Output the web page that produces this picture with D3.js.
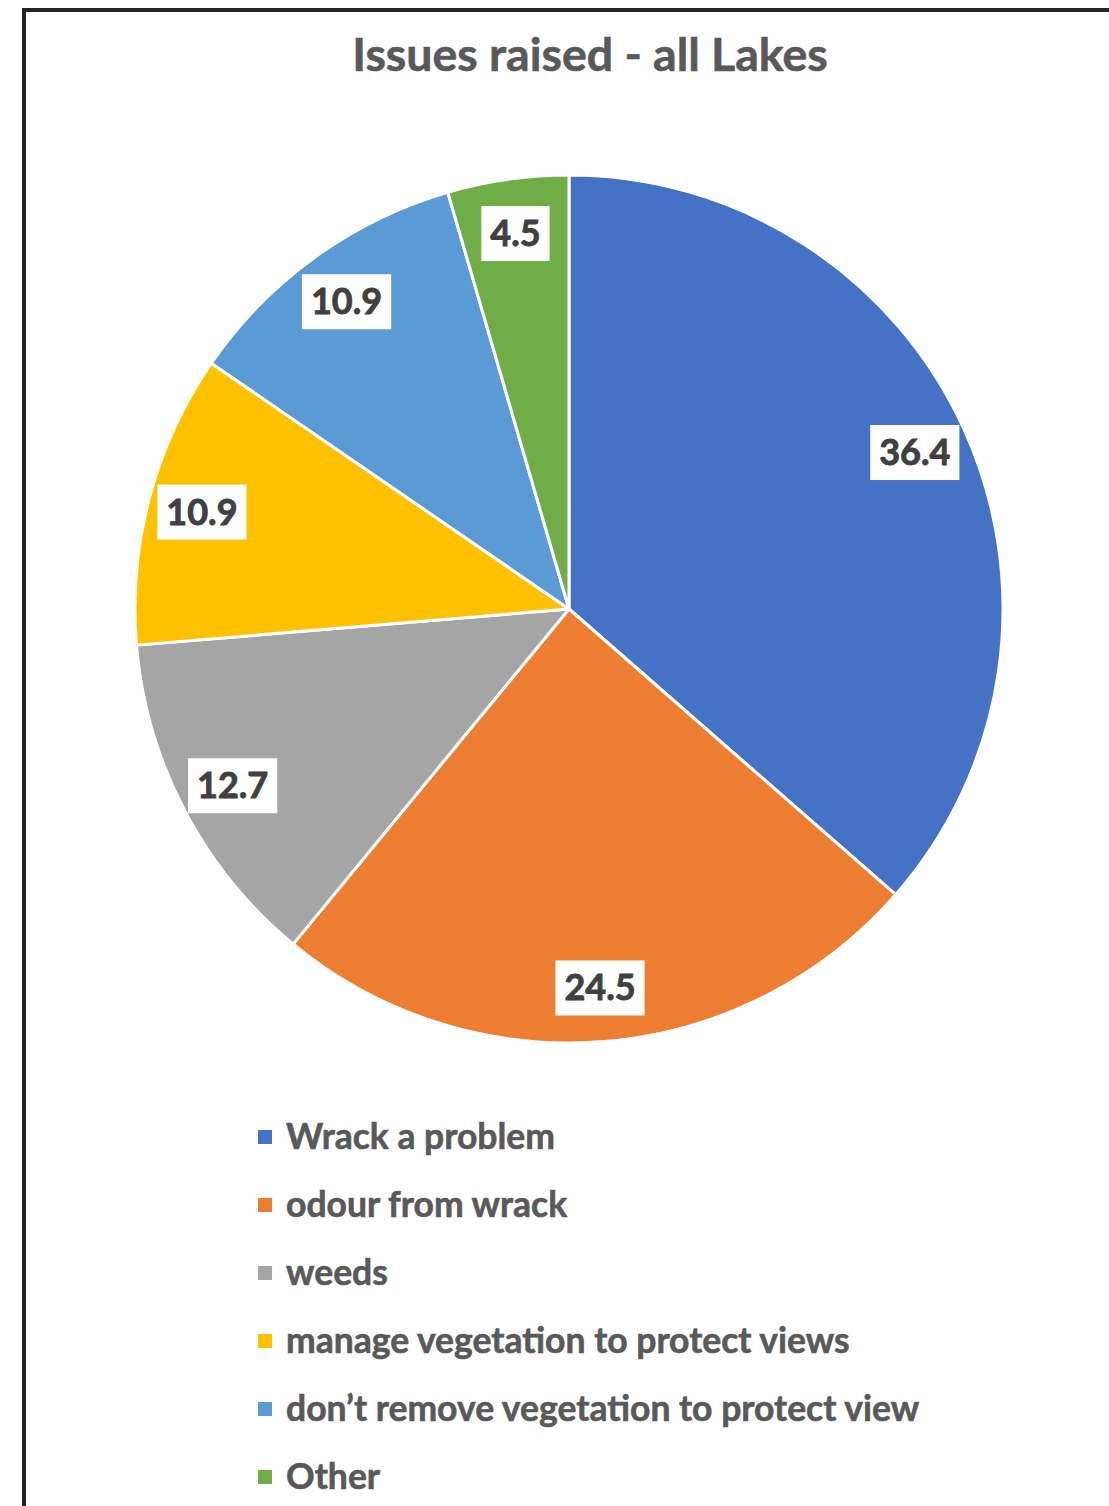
<!DOCTYPE html>
<html><head><meta charset="utf-8">
<script src="https://cdn.jsdelivr.net/npm/d3@7"></script>
<style>body{margin:0;background:#fff}svg{display:block}</style>
</head><body>
<script>
const categories = ["Wrack a problem","odour from wrack","weeds","manage vegetation to protect views","don\u2019t remove vegetation to protect view","Other"];
const values = [36.4,24.5,12.7,10.9,10.9,4.5];
const colors = ["#4472C4","#ED7D31","#A5A5A5","#FFC000","#5B9BD5","#70AD47"];
const title = "Issues raised - all Lakes";

const W=1109,H=1506;
const svg=d3.select("body").append("svg").attr("width",W).attr("height",H);
svg.append("rect").attr("x",24).attr("y",10).attr("width",W+20).attr("height",H+20)
  .attr("fill","#fff").attr("stroke","#262626").attr("stroke-width",4);
const font="Lato, 'Open Sans', sans-serif";
svg.append("text").attr("x",590).attr("y",71).attr("text-anchor","middle")
  .attr("font-family",font).attr("font-weight","bold").attr("font-size",46.5)
  .attr("fill","#595959").attr("stroke","#595959").attr("stroke-width",0.6).text(title);

const cx=569,cy=609,R=434;
const pie=d3.pie().sort(null).value(d=>d)(values);
const arc=d3.arc().innerRadius(0).outerRadius(R);
const lab=d3.arc().innerRadius(R*0.875).outerRadius(R*0.875);
const g=svg.append("g").attr("transform",`translate(${cx},${cy})`);
g.selectAll("path").data(pie).join("path").attr("d",arc)
  .attr("fill",(d,i)=>colors[i]).attr("stroke","#fff").attr("stroke-width",3).attr("stroke-linejoin","round");
const lg=g.selectAll("g.l").data(pie).join("g").attr("class","l")
  .attr("transform",d=>`translate(${lab.centroid(d)})`);
lg.append("text").attr("text-anchor","middle").attr("dy","0.36em")
  .attr("font-family",font).attr("font-weight","bold").attr("font-size",36).attr("fill","#404040")
  .attr("stroke","#404040").attr("stroke-width",0.9)
  .text(d=>d.value.toFixed(1));
lg.each(function(){
  const t=d3.select(this).select("text").node().getBBox();
  d3.select(this).insert("rect","text").attr("x",t.x-9).attr("y",-27).attr("width",t.width+18).attr("height",55).attr("fill","#fff");
});

const leg=svg.append("g");
const ly=d3.scalePoint().domain(categories).range([1137,1477]);
const li=leg.selectAll("g").data(categories).join("g").attr("transform",d=>`translate(258,${ly(d)})`);
li.append("rect").attr("x",0).attr("y",-7).attr("width",14).attr("height",14).attr("fill",(d,i)=>colors[i]);
li.append("text").attr("x",28).attr("dy","0.35em").attr("font-family",font).attr("font-weight","bold")
  .attr("font-size",35.5).attr("fill","#595959").attr("stroke","#595959").attr("stroke-width",0.6).text(d=>d);
</script>
</body></html>
